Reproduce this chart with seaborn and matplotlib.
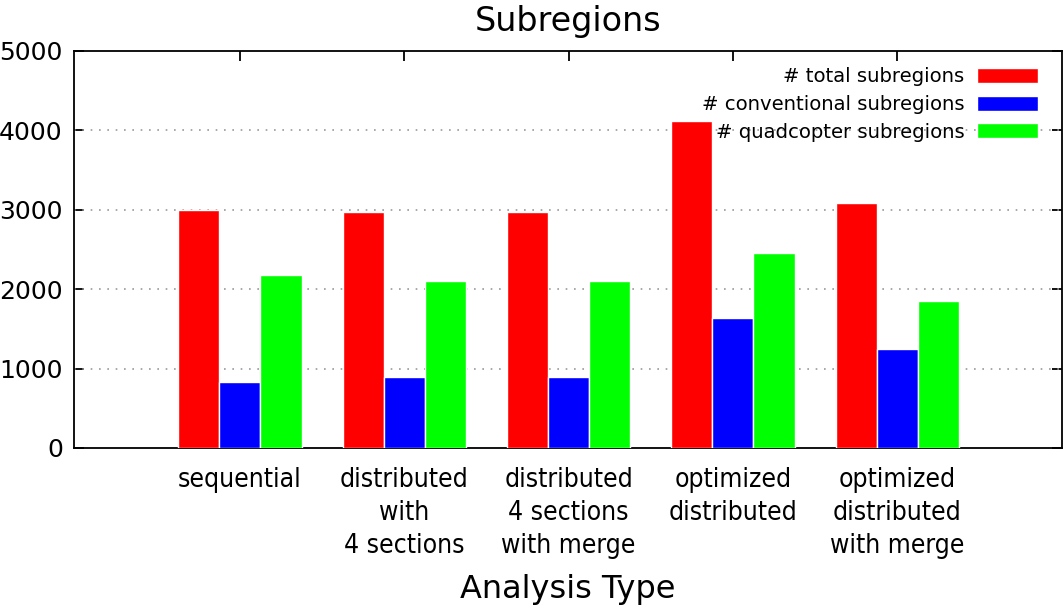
import pandas as pd
import matplotlib.pyplot as plt
import seaborn as sns

analysis_types = [
    "sequential",
    "distributed\nwith\n4 sections",
    "distributed\n4 sections\nwith merge",
    "optimized\ndistributed",
    "optimized\ndistributed\nwith merge",
]
series_names = ["# total subregions", "# conventional subregions", "# quadcopter subregions"]
total = [2990, 2970, 2970, 4110, 3080]
conventional = [825, 890, 890, 1640, 1245]
quadcopter = [2180, 2100, 2100, 2460, 1850]
colors = ["#ff0000", "#0000ff", "#00ff00"]

df = pd.DataFrame({
    "Analysis Type": analysis_types * 3,
    "series": [series_names[0]] * 5 + [series_names[1]] * 5 + [series_names[2]] * 5,
    "value": total + conventional + quadcopter,
})

sns.set_theme(style="white")
plt.rcParams["font.family"] = ["DejaVu Sans"]
plt.rcParams["text.color"] = "black"
plt.rcParams["axes.labelcolor"] = "black"
plt.rcParams["xtick.color"] = "black"
plt.rcParams["ytick.color"] = "black"

fig = plt.figure(figsize=(10.63, 6.12), dpi=100)
ax = fig.add_axes([0.0696, 0.268, 0.929, 0.649])

sns.barplot(data=df, x="Analysis Type", y="value", hue="series", palette=colors,
            width=0.75, edgecolor="white", linewidth=1, saturation=1, ax=ax, zorder=3)

ax.set_xlim(-1.01, 5.0)
ax.set_ylim(0, 5000)
ax.set_yticks([0, 1000, 2000, 3000, 4000, 5000])
for y in [1000, 2000, 3000, 4000]:
    ax.axhline(y, color="#999999", linestyle=(0, (1, 4)), linewidth=1.2, zorder=1)

for s in ax.spines.values():
    s.set_color("black")
    s.set_linewidth(1.3)

ax.tick_params(axis="y", direction="in", left=True, right=True, length=7, width=1.3,
               labelsize=18, pad=8)
ax.tick_params(axis="x", direction="in", bottom=False, top=True, length=7, width=1.3,
               labelsize=19, pad=14)
for lab in ax.get_xticklabels():
    lab.set_fontstretch("condensed")
    lab.set_linespacing(1.34)

ax.set_title("Subregions", fontsize=24, pad=14)
ax.set_xlabel("Analysis Type", fontsize=23, labelpad=11)
ax.set_ylabel("")

ax.legend(loc="upper right", bbox_to_anchor=(1.0, 1.018), frameon=False,
          markerfirst=False, fontsize=14.1, handlelength=3.1, handleheight=0.8,
          labelspacing=0.45, borderaxespad=0.8, handletextpad=0.65)

fig.savefig("out.png", dpi=100)
